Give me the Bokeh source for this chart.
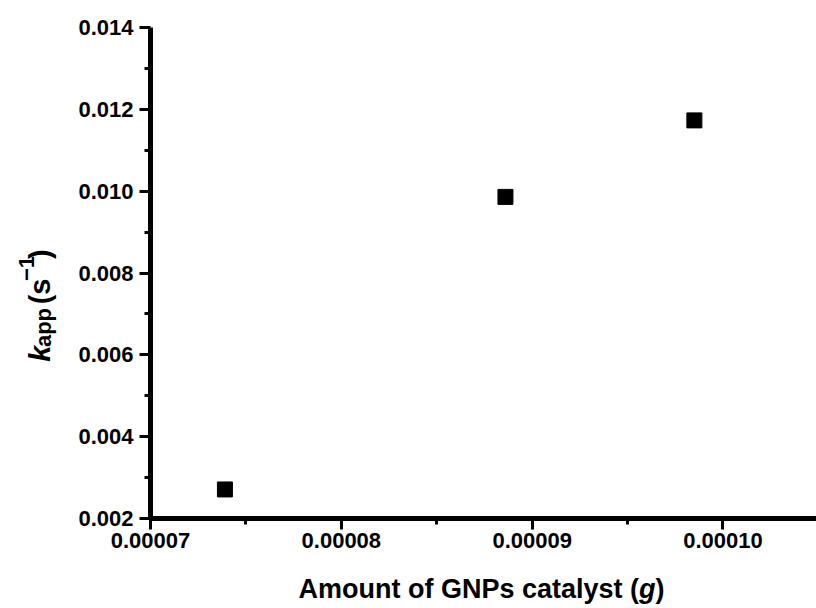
import math

from bokeh.plotting import figure
from bokeh.layouts import row, column
from bokeh.models import FixedTicker, PrintfTickFormatter, Label, Range1d
from bokeh.embed import file_html
from bokeh.resources import INLINE

# Apparent rate constant versus catalyst mass
catalyst_g = [0.0000739, 0.0000886, 0.0000985]
k_app = [0.00271, 0.00986, 0.01173]

x_major = [0.00007, 0.00008, 0.00009, 0.00010]
x_minor = [0.000075, 0.000085, 0.000095]
y_major = [0.002, 0.004, 0.006, 0.008, 0.010, 0.012, 0.014]
y_minor = [0.003, 0.005, 0.007, 0.009, 0.011, 0.013]

X0, X1 = 0.00007, 0.0001049
Y0, Y1 = 0.002, 0.014

FONT = "Liberation Sans"

W, H = 816, 608
LEFT_W = 70      # strip holding the rotated y title
BOTTOM_H = 50    # strip holding the x title

# main plot
p_main = figure(
    width=W - LEFT_W, height=H - BOTTOM_H,
    x_range=(X0, X1), y_range=(Y0, Y1),
    output_backend="svg", toolbar_location=None,
    min_border_left=80, min_border_right=0,
    min_border_top=27, min_border_bottom=40,
)
p_main.outline_line_color = None
p_main.xgrid.visible = False
p_main.ygrid.visible = False
p_main.background_fill_color = "white"
p_main.border_fill_color = "white"

p_main.scatter(catalyst_g, k_app, marker="square", size=15, color="black")

for ax, major, minor, fmt, standoff in (
    (p_main.xaxis[0], x_major, x_minor, "%.5f", 3),
    (p_main.yaxis[0], y_major, y_minor, "%.3f", 6),
):
    ax.ticker = FixedTicker(ticks=major, minor_ticks=minor)
    ax.formatter = PrintfTickFormatter(format=fmt)
    ax.axis_line_width = 5
    ax.axis_line_color = "black"
    ax.major_tick_line_width = 3
    ax.minor_tick_line_width = 3
    ax.major_tick_in = 0
    ax.minor_tick_in = 0
    ax.major_tick_out = 11
    ax.minor_tick_out = 6
    ax.major_label_text_font = FONT
    ax.major_label_text_font_style = "bold"
    ax.major_label_text_font_size = "22px"
    ax.major_label_text_color = "black"
    ax.major_label_standoff = standoff


def text_strip(width, height):
    f = figure(
        width=width, height=height,
        x_range=Range1d(0, width), y_range=Range1d(0, height),
        output_backend="svg", toolbar_location=None,
        x_axis_location=None, y_axis_location=None, min_border=0,
    )
    f.outline_line_color = None
    f.xgrid.visible = False
    f.ygrid.visible = False
    f.background_fill_color = "white"
    f.border_fill_color = "white"
    return f


# Label anchors sit about 0.3 em off the glyph baseline
BASE_SHIFT = 0.3

# y-axis title: k_app (s^-1), rotated, reading upwards
p_ytitle = text_strip(LEFT_W, H - BOTTOM_H)
YT, YS = 29, 22
SPACE = 0.278
# text, style, size, baseline x, gap before (em), advance (em)
y_parts = [
    ("k", "bold italic", YT, 48, 0.0, 0.556),
    ("app", "bold", YS, 50, 0.03, 1.778),
    ("(s", "bold", YT, 48, SPACE + 0.05, 0.889),
    ("\u22121", "bold", YS, 33, 0.03, 1.140),
    (")", "bold", YT, 48, 0.0, 0.333),
]
yo = 178
for txt, style, size, base_x, gap, em in y_parts:
    yo += gap * size
    p_ytitle.add_layout(Label(
        x=base_x - BASE_SHIFT * size, y=yo, text=txt, angle=math.pi / 2,
        text_font=FONT, text_font_style=style, text_font_size=f"{size}px",
        text_color="black", text_baseline="alphabetic", text_align="left",
    ))
    yo += em * size

# x-axis title, with the unit in italics
p_xtitle = text_strip(W, BOTTOM_H)
XT = 27
x_parts = [("Amount of GNPs catalyst (", "bold", 12.613), ("g", "bold italic", 0.611), (")", "bold", 0.333)]
xo = 298
x_base = BOTTOM_H - (597 - (H - BOTTOM_H))  # baseline height inside the strip
for txt, style, em in x_parts:
    p_xtitle.add_layout(Label(
        x=xo, y=x_base + BASE_SHIFT * XT, text=txt,
        text_font=FONT, text_font_style=style, text_font_size=f"{XT}px",
        text_color="black", text_baseline="alphabetic", text_align="left",
    ))
    xo += em * XT

p = column(row(p_ytitle, p_main, spacing=0), p_xtitle, spacing=0)

open("out.html", "w").write(file_html(p, INLINE))
